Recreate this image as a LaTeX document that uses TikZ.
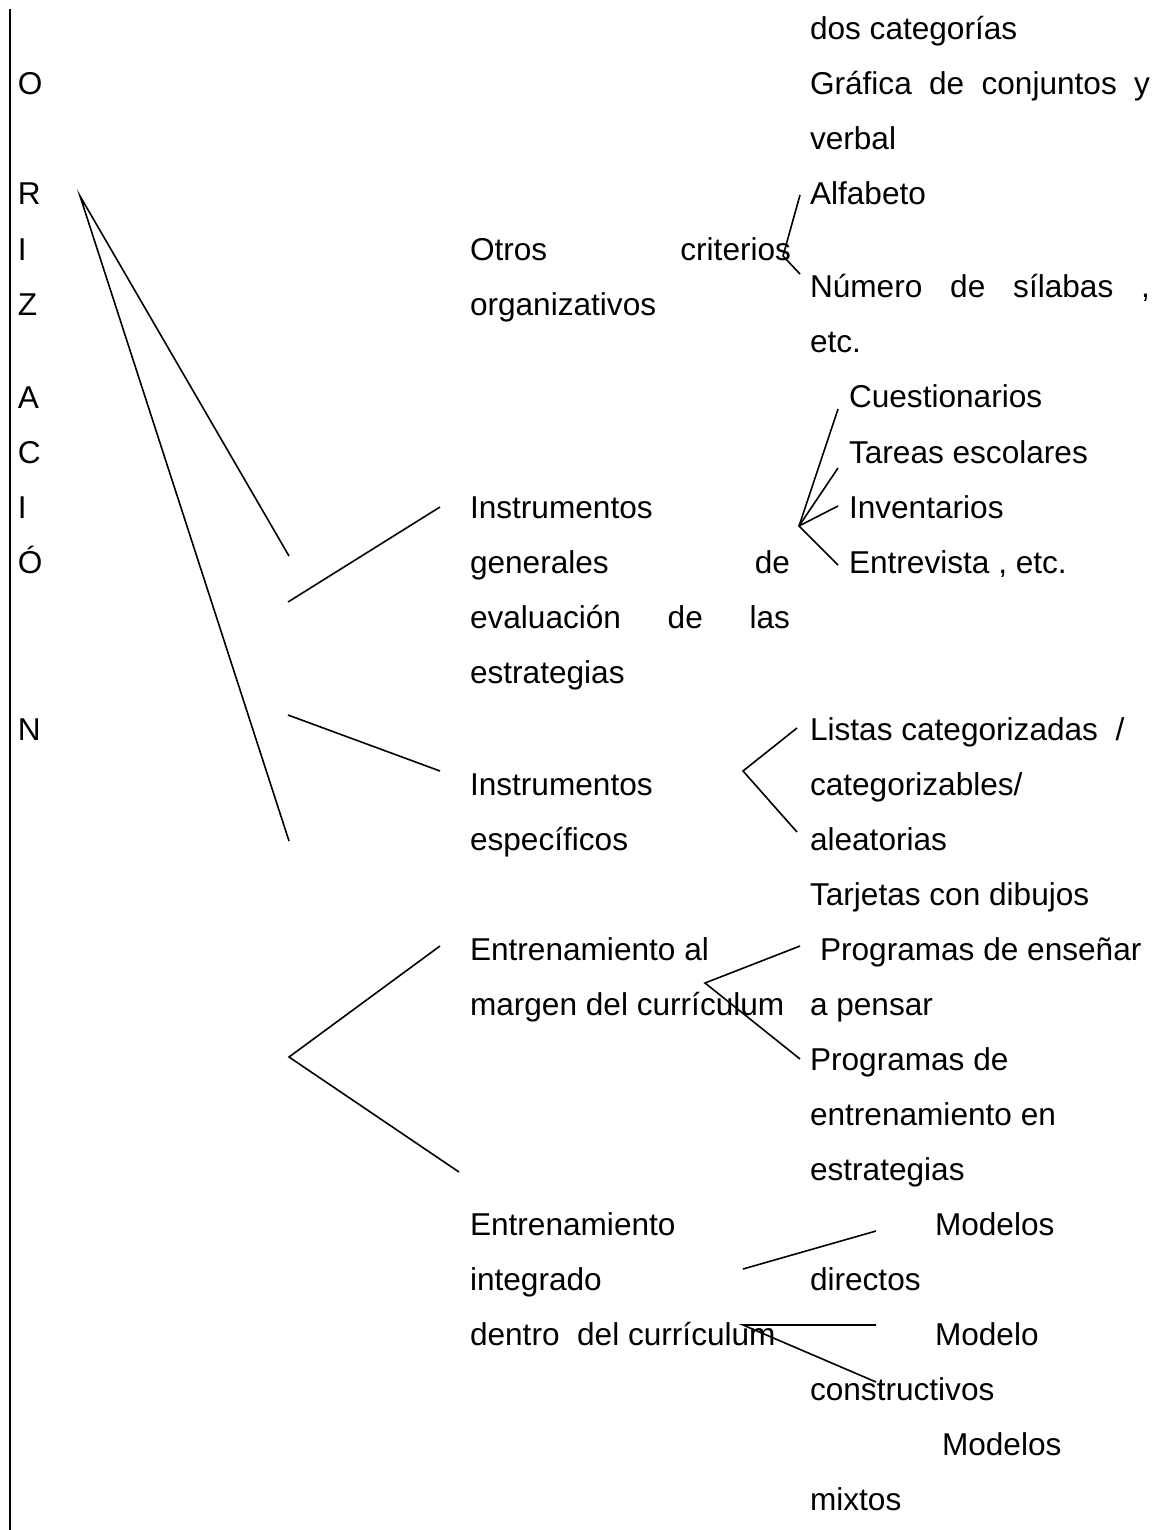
\documentclass[tikz,border=0pt]{standalone}
\usepackage{fontspec}
\setmainfont{Liberation Sans}
% stretch the interword spaces of a line to a fixed width (justified line)
\newcommand\justline[2]{\makebox[#1][s]{#2}}
\begin{document}
\begin{tikzpicture}[x=0.5pt,y=-0.5pt,
  lbl/.style={anchor=base west, inner sep=0pt, outer sep=0pt,
              font=\fontsize{15.8}{18}\selectfont},
  link/.style={line width=0.8pt, black},
  rule/.style={line width=1.3pt, black}]
\useasboundingbox (0,0) rectangle (1157,1530);

% ---- vertical rule and the spelled-out word ----
\coordinate (trTop) at (10,9);
\coordinate (trBot) at (10,1530);
\draw[rule] (trTop) -- (trBot);

\node[lbl] (lO) at (18,95)  {O};
\node[lbl] (lR) at (18,205) {R};
\node[lbl] (lI) at (18,260) {I};
\node[lbl] (lZ) at (18,315) {Z};
\node[lbl] (lA) at (18,408) {A};
\node[lbl] (lC) at (18,463) {C};
\node[lbl] (lIb) at (18,518) {I};
\node[lbl] (lOa) at (18,573) {Ó};
\node[lbl] (lN) at (18,740) {N};

% ---- middle column ----
\node[lbl] (otros) at (470,260) {\justline{160.5pt}{Otros criterios}};
\node[lbl] (organiz) at (470,315) {organizativos};
\node[lbl] (instA1) at (470,518) {Instrumentos};
\node[lbl] (instA2) at (470,573) {\justline{160pt}{generales de}};
\node[lbl] (instA3) at (470,628) {\justline{160pt}{evaluación de las}};
\node[lbl] (instA4) at (470,683) {estrategias};
\node[lbl] (instB1) at (470,795) {Instrumentos};
\node[lbl] (instB2) at (470,850) {específicos};
\node[lbl] (entA1) at (470,960) {Entrenamiento al};
\node[lbl] (entA2) at (470,1015) {margen del currículum};
\node[lbl] (entB1) at (470,1235) {Entrenamiento};
\node[lbl] (entB2) at (470,1290) {integrado};
\node[lbl] (entB3) at (470,1345) {dentro\ \ del currículum};

% ---- right column ----
\node[lbl] (r1)  at (810,40)   {dos categorías};
\node[lbl] (r2)  at (810,95)   {\justline{170pt}{Gráfica de conjuntos y}};
\node[lbl] (r3)  at (810,150)  {verbal};
\node[lbl] (r4)  at (810,205)  {Alfabeto};
\node[lbl] (r5)  at (810,297)  {\justline{170pt}{Número de sílabas ,}};
\node[lbl] (r6)  at (810,352)  {etc.};
\node[lbl] (r7)  at (849,407)  {Cuestionarios};
\node[lbl] (r8)  at (849,463)  {Tareas escolares};
\node[lbl] (r9)  at (849,518)  {Inventarios};
\node[lbl] (r10) at (849,573)  {Entrevista , etc.};
\node[lbl] (r11) at (810,740)  {Listas categorizadas\ \ /};
\node[lbl] (r12) at (810,795)  {categorizables/};
\node[lbl] (r13) at (810,850)  {aleatorias};
\node[lbl] (r14) at (810,905)  {Tarjetas con dibujos};
\node[lbl] (r15) at (820,960)  {Programas de enseñar};
\node[lbl] (r16) at (810,1015) {a pensar};
\node[lbl] (r17) at (810,1070) {Programas de};
\node[lbl] (r18) at (810,1125) {entrenamiento en};
\node[lbl] (r19) at (810,1180) {estrategias};
\node[lbl] (r20) at (935,1235) {Modelos};
\node[lbl] (r21) at (810,1290) {directos};
\node[lbl] (r22) at (935,1345) {Modelo};
\node[lbl] (r23) at (810,1400) {constructivos};
\node[lbl] (r24) at (942,1455) {Modelos};
\node[lbl] (r25) at (810,1510) {mixtos};

% ---- connector end points ----
\coordinate (hub) at (80,196);
\coordinate (f1) at (289,556);
\coordinate (f2) at (289,841);
\coordinate (g1a) at (288,602);
\coordinate (g1b) at (440,507);
\coordinate (g2a) at (288,715);
\coordinate (g2b) at (440,771);
\coordinate (h0) at (289,1057);
\coordinate (h1) at (440,946);
\coordinate (h2) at (459,1172);
\coordinate (a0) at (783,256);
\coordinate (a1) at (800,195);
\coordinate (a2) at (800,274);
\coordinate (c0) at (799,526);
\coordinate (c1) at (838,409);
\coordinate (c2) at (838,468);
\coordinate (c3) at (838,506);
\coordinate (c4) at (838,565);
\coordinate (l0) at (743,771);
\coordinate (l1) at (797,728);
\coordinate (l2) at (797,832);
\coordinate (p0) at (705,983);
\coordinate (p1) at (800,946);
\coordinate (p2) at (800,1059);
\coordinate (m0) at (743,1269);
\coordinate (m1) at (876,1231);
\coordinate (n0) at (743,1325);
\coordinate (n1) at (876,1325);
\coordinate (n2) at (876,1382);

% ---- connectors ----
\draw[link] (f1) -- (hub) -- (f2);
\draw[link] (g1a) -- (g1b);
\draw[link] (g2a) -- (g2b);
\draw[link] (h1) -- (h0) -- (h2);
\draw[link] (a1) -- (a0) -- (a2);
\draw[link] (c1) -- (c0) -- (c4);
\draw[link] (c0) -- (c2);
\draw[link] (c0) -- (c3);
\draw[link] (l1) -- (l0) -- (l2);
\draw[link] (p1) -- (p0) -- (p2);
\draw[link] (m0) -- (m1);
\draw[link] (n1) -- (n0) -- (n2);
\end{tikzpicture}
\end{document}
